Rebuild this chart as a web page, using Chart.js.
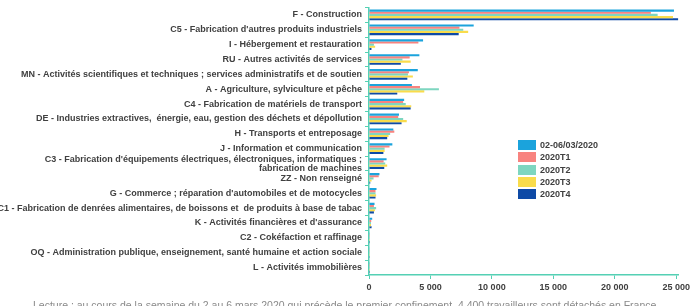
<!DOCTYPE html>
<html lang="fr">
<head>
<meta charset="utf-8">
<script src="https://cdn.jsdelivr.net/npm/chart.js@4"></script>
<style>
  html, body { margin: 0; padding: 0; background: #fff; }
  #wrap { position: relative; width: 693px; height: 306px; overflow: hidden; }
  #legend { position: absolute; left: 518px; top: 139px; font: bold 9px "Liberation Sans", Arial, sans-serif; color: #404040; }
  #legend .item { height: 12.3px; display: flex; align-items: center; }
  #legend .sw { width: 18px; height: 10px; margin-right: 4px; }
  #note { position: absolute; left: 33px; top: 299px; font: 10.5px "Liberation Sans", Arial, sans-serif; color: #8a8a8a; white-space: nowrap; }
</style>
</head>
<body>
<div id="wrap">
  <canvas id="chart"></canvas>
  <div id="legend"></div>
  <div id="note">Lecture : au cours de la semaine du 2 au 6 mars 2020 qui précède le premier confinement, 4 400 travailleurs sont détachés en France</div>
</div>
<script>
// secteurs (du haut vers le bas)
const sectors = [
  'F - Construction',
  "C5 - Fabrication d'autres produits industriels",
  'I - Hébergement et restauration',
  'RU - Autres activités de services',
  'MN - Activités scientifiques et techniques ; services administratifs et de soutien',
  'A - Agriculture, sylviculture et pêche',
  'C4 - Fabrication de matériels de transport',
  'DE - Industries extractives,  énergie, eau, gestion des déchets et dépollution',
  'H - Transports et entreposage',
  'J - Information et communication',
  ["C3 - Fabrication d'équipements électriques, électroniques, informatiques ;", 'fabrication de machines'],
  'ZZ - Non renseigné',
  "G - Commerce ; réparation d'automobiles et de motocycles",
  'C1 - Fabrication de denrées alimentaires, de boissons et  de produits à base de tabac',
  "K - Activités financières et d'assurance",
  'C2 - Cokéfaction et raffinage',
  'OQ - Administration publique, enseignement, santé humaine et action sociale',
  'L - Activités immobilières'
];

const seriesNames = ['02-06/03/2020', '2020T1', '2020T2', '2020T3', '2020T4'];

const week0306 = [24820, 8520, 4400, 4100, 3970, 3490, 2860, 2440, 1980, 1900, 1430, 850, 610, 450, 260, 20, 30, 20];
const t1 = [22940, 7360, 4020, 3310, 3250, 4150, 2780, 2380, 2060, 1670, 1190, 790, 530, 400, 180, 10, 20, 10];
const t2 = [23490, 7670, 400, 2720, 3170, 5690, 2990, 2780, 1720, 1270, 1320, 370, 530, 580, 160, 10, 20, 10];
const t3 = [24740, 8070, 500, 3390, 3570, 4500, 3440, 3070, 1590, 1270, 1480, 210, 580, 480, 160, 10, 20, 10];
const t4 = [25160, 7300, 200, 2590, 3120, 2300, 3390, 2650, 1480, 1170, 1240, 100, 530, 400, 210, 10, 20, 10];

const xTicks = [0, 5000, 10000, 15000, 20000, 25000];

const colors = ['#1ba3dc', '#f8837f', '#7ed6c0', '#f9dc4c', '#0e4aa6'];
const axisColor = '#55d0b4';
const textColor = '#404040';

const values = [week0306, t1, t2, t3, t4];

const chart = new Chart(document.getElementById('chart'), {
  type: 'bar',
  data: {
    labels: sectors,
    datasets: values.map((v, i) => ({
      label: seriesNames[i],
      data: v,
      backgroundColor: colors[i],
      borderWidth: 0,
      categoryPercentage: 0.72,
      barPercentage: 1
    }))
  },
  options: {
    indexAxis: 'y',
    responsive: true,
    maintainAspectRatio: false,
    animation: false,
    layout: { padding: { top: 4, right: 6, left: 0, bottom: 0 } },
    plugins: {
      legend: { display: false },
      tooltip: { enabled: false }
    },
    scales: {
      x: {
        min: 0,
        max: 25200,
        afterBuildTicks: s => { s.ticks = xTicks.map(v => ({ value: v })); },
        afterFit: s => { s.height = 31; },
        grid: { drawOnChartArea: false, drawTicks: true, tickLength: 4, color: axisColor },
        border: { color: axisColor, width: 1.5 },
        ticks: {
          padding: 3,
          color: textColor,
          font: { family: '"Liberation Sans", Arial, sans-serif', size: 9, weight: 'bold' },
          callback: v => v.toString().replace(/\B(?=(\d{3})+(?!\d))/g, ' ')
        }
      },
      y: {
        afterFit: s => { s.width = 369; },
        grid: { drawOnChartArea: false, drawTicks: true, tickLength: 4, color: axisColor, offset: true },
        border: { color: axisColor, width: 1.5 },
        ticks: {
          padding: 3,
          autoSkip: false,
          color: textColor,
          font: { family: '"Liberation Sans", Arial, sans-serif', size: 9, weight: 'bold', lineHeight: 1.0 }
        }
      }
    }
  }
});

// légende
const legend = document.getElementById('legend');
seriesNames.forEach((name, i) => {
  const item = document.createElement('div');
  item.className = 'item';
  item.innerHTML = '<span class="sw" style="background:' + colors[i] + '"></span><span>' + name + '</span>';
  legend.appendChild(item);
});
</script>
</body>
</html>
